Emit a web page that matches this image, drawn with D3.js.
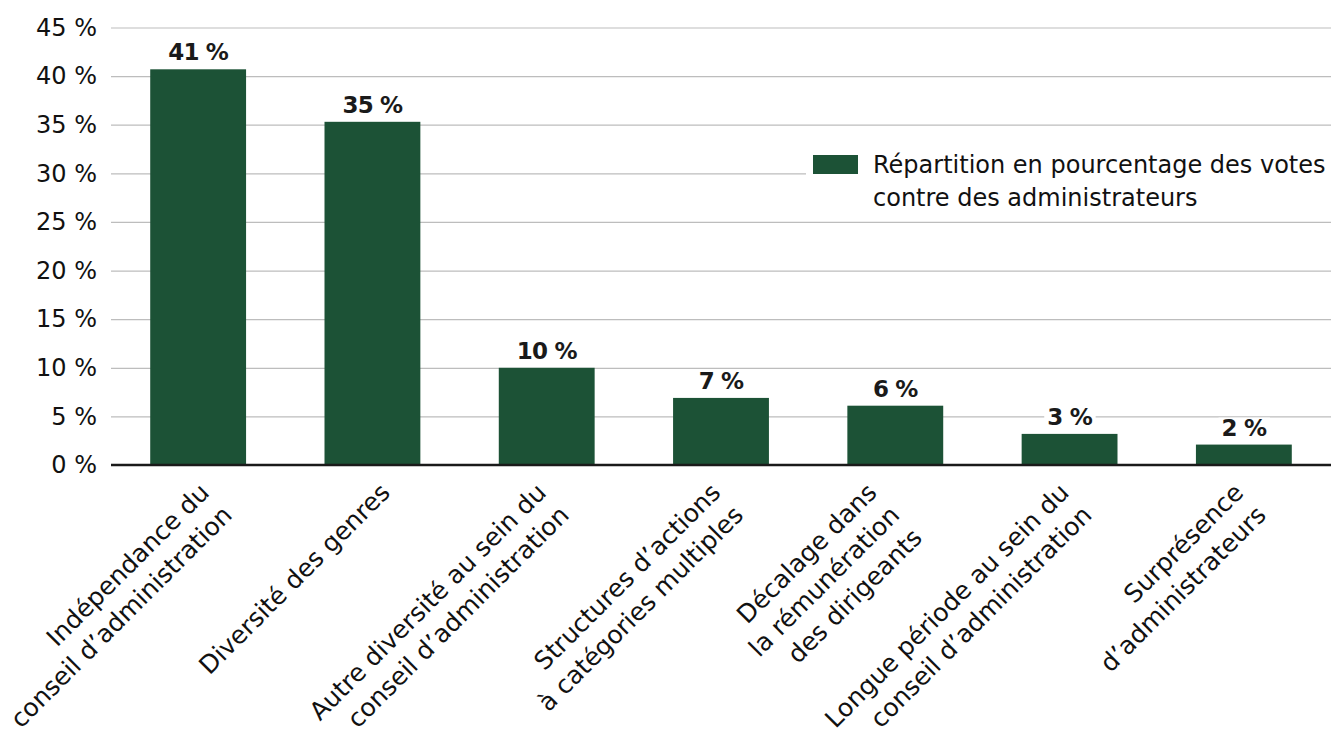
<!DOCTYPE html>
<html><head><meta charset="utf-8">
<script src="https://cdn.jsdelivr.net/npm/d3@7"></script>
<style>
html,body{margin:0;padding:0;background:#fff;}
svg{display:block;font-family:"DejaVu Sans", sans-serif;}
</style></head>
<body><svg id="chart" width="1331" height="739"></svg>
<script>
const categories = [
  ["Indépendance du", "conseil d’administration"],
  ["Diversité des genres"],
  ["Autre diversité au sein du", "conseil d’administration"],
  ["Structures d’actions", "à catégories multiples"],
  ["Décalage dans", "la rémunération", "des dirigeants"],
  ["Longue période au sein du", "conseil d’administration"],
  ["Surprésence", "d’administrateurs"]
];
const values = [40.7, 35.3, 10.0, 6.9, 6.1, 3.2, 2.1];
const valueLabels = ["41 %", "35 %", "10 %", "7 %", "6 %", "3 %", "2 %"];
const yTicks = [0, 5, 10, 15, 20, 25, 30, 35, 40, 45];
const seriesName = ["Répartition en pourcentage des votes", "contre des administrateurs"];

const plotL = 111, plotR = 1331, plotT = 27.5, plotB = 465;
const barColor = "#1c5236";
const svg = d3.select("#chart");

const keys = categories.map(c => c.join(" "));
const x = d3.scaleBand().domain(keys).range([plotL, plotR]).paddingInner(0.45).paddingOuter(0.225);
const y = d3.scaleLinear().domain([0, 45]).range([plotB, plotT]);

// gridlines
svg.append("g").attr("transform", `translate(${plotL},0)`)
  .call(d3.axisLeft(y).tickValues(yTicks.filter(d => d > 0)).tickSize(-(plotR - plotL)).tickFormat(""))
  .call(g => g.select(".domain").remove())
  .call(g => g.selectAll("line").attr("stroke", "#bdbdbd").attr("stroke-width", 1.2));

// y tick labels
svg.append("g").attr("transform", `translate(${plotL},0)`)
  .call(d3.axisLeft(y).tickValues(yTicks).tickSize(0).tickPadding(14).tickFormat(d => d + "\u00a0%"))
  .call(g => g.select(".domain").remove())
  .call(g => g.selectAll("text").attr("font-size", 24).attr("fill", "#111").attr("font-family", "DejaVu Sans, sans-serif"));

// legend background + legend
const lg = svg.append("g");
lg.append("rect").attr("x", 806).attr("y", 138).attr("width", plotR - 806).attr("height", 76).attr("fill", "#fff");
lg.append("rect").attr("x", 813).attr("y", 155).attr("width", 45).attr("height", 19).attr("fill", barColor);
lg.append("text").attr("x", 873).attr("y", 173).attr("font-size", 24).attr("fill", "#111")
  .selectAll("tspan").data(seriesName).join("tspan")
  .attr("x", 873).attr("dy", (d, i) => i ? 33 : 0).text(d => d);

// bars
svg.append("g").selectAll("rect").data(values).join("rect")
  .attr("x", (d, i) => x(keys[i]))
  .attr("width", x.bandwidth())
  .attr("y", d => y(d))
  .attr("height", d => y(0) - y(d))
  .attr("fill", barColor);

// baseline axis
svg.append("line").attr("x1", plotL).attr("x2", plotR).attr("y1", y(0)).attr("y2", y(0))
  .attr("stroke", "#1a1a1a").attr("stroke-width", 2.5);

// value labels
const vl = svg.append("g").selectAll("g").data(values).join("g")
  .attr("transform", (d, i) => `translate(${x(keys[i]) + x.bandwidth() / 2},${y(d) - 9})`);
vl.append("rect").attr("fill", "#fff");
vl.append("text").attr("text-anchor", "middle").attr("font-size", 23).attr("font-weight", 700)
  .attr("fill", "#1a1a1a").attr("letter-spacing", -0.8).text((d, i) => valueLabels[i]);
vl.each(function () {
  const t = d3.select(this).select("text").node().getBBox();
  d3.select(this).select("rect").attr("x", t.x - 3).attr("y", t.y + 3).attr("width", t.width + 6).attr("height", t.height - 4);
});

// category labels
const lineH = 32;
const cl = svg.append("g");
categories.forEach((lines, i) => {
  const cx = x(keys[i]) + x.bandwidth() / 2;
  const n = lines.length;
  const ex = cx + 19 - 18 * (n - 1), ey = 494;
  const g = cl.append("g").attr("transform", `translate(${ex},${ey}) rotate(-45)`);
  const t = g.append("text").attr("text-anchor", "end").attr("font-size", 25).attr("fill", "#111");
  lines.forEach((s, j) => t.append("tspan").attr("x", 0).attr("y", j * lineH).text(s));
  const bb = g.node().getBoundingClientRect();
  const minLeft = -18;
  if (bb.left < minLeft) {
    g.attr("transform", `translate(${ex + (minLeft - bb.left)},${ey}) rotate(-45)`);
  }
});
</script>
</body></html>
